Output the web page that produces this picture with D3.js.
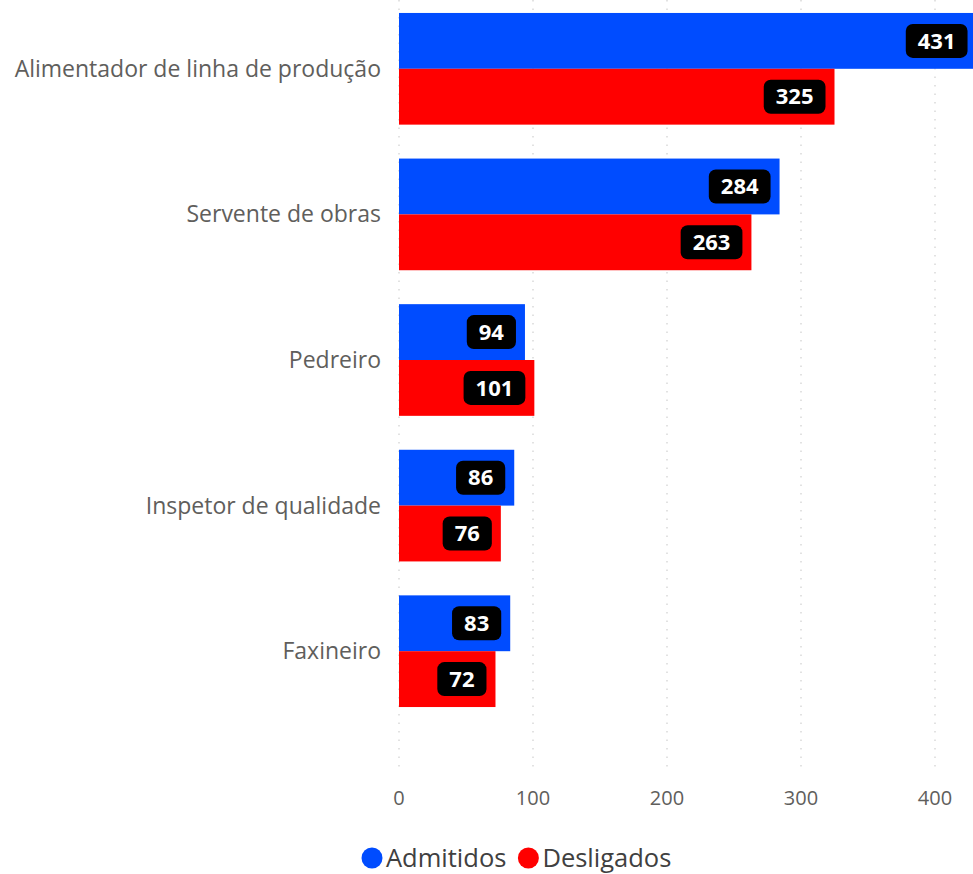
<!DOCTYPE html>
<html>
<head>
<meta charset="utf-8">
<script src="https://cdn.jsdelivr.net/npm/d3@7"></script>
<style>
    body { margin: 0; background: #fff; overflow: hidden; }
    svg { display: block; font-family: "Open Sans", sans-serif; }
    .cat-label { fill: #605e5c; font-size: 23px; }
    .tick-label { fill: #605e5c; font-size: 20px; }
    .legend-text { fill: #404040; font-size: 25.5px; }
    .value-label { fill: #fff; font-size: 22px; font-weight: 700; }
</style>
</head>
<body>
<script>
const categories = ["Alimentador de linha de produção", "Servente de obras", "Pedreiro", "Inspetor de qualidade", "Faxineiro"]
const admitidos = [431, 284, 94, 86, 83]
const desligados = [325, 263, 101, 76, 72]
const seriesNames = ["Admitidos", "Desligados"]
const xTicks = [0, 100, 200, 300, 400]

const WIDTH = 973
const HEIGHT = 874
const COLORS = ["#004cff", "#ff0000"]

const svg = d3.select("body")
    .append("svg")
    .attr("width", WIDTH)
    .attr("height", HEIGHT)

const xScale = d3.scaleLinear()
    .domain([0, 400])
    .range([399, 935])

const yScale = d3.scaleBand()
    .domain(categories)
    .range([-4, 724])
    .paddingInner(0.233)
    .paddingOuter(0.1165)

const subScale = d3.scaleBand()
    .domain(seriesNames)
    .range([0, yScale.bandwidth()])

// dotted gridlines
svg.append("g")
    .selectAll("line")
    .data(xTicks)
    .enter()
    .append("line")
    .attr("x1", d => xScale(d))
    .attr("x2", d => xScale(d))
    .attr("y1", 0)
    .attr("y2", 772)
    .attr("stroke", "#d9d9d9")
    .attr("stroke-width", 1.5)
    .attr("stroke-dasharray", "1.5,7")

// x-axis tick labels
svg.append("g")
    .selectAll("text")
    .data(xTicks)
    .enter()
    .append("text")
    .attr("class", "tick-label")
    .attr("x", d => xScale(d))
    .attr("y", 805)
    .attr("text-anchor", "middle")
    .text(d => d)

// category labels
svg.append("g")
    .selectAll("text")
    .data(categories)
    .enter()
    .append("text")
    .attr("class", "cat-label")
    .attr("x", 381)
    .attr("y", d => yScale(d) + yScale.bandwidth() / 2)
    .attr("dy", "0.35em")
    .attr("text-anchor", "end")
    .text(d => d)

const rows = []
categories.forEach((c, i) => {
    rows.push({ cat: c, series: seriesNames[0], value: admitidos[i], color: COLORS[0] })
    rows.push({ cat: c, series: seriesNames[1], value: desligados[i], color: COLORS[1] })
})

const bars = svg.append("g")
    .selectAll("g")
    .data(rows)
    .enter()
    .append("g")
    .attr("transform", d => "translate(0, " + (yScale(d.cat) + subScale(d.series)) + ")")

bars.append("rect")
    .attr("x", xScale(0))
    .attr("y", 0)
    .attr("width", d => xScale(d.value) - xScale(0))
    .attr("height", subScale.bandwidth())
    .attr("fill", d => d.color)

// value labels in black rounded boxes
const boxH = 34
bars.each(function (d) {
    const g = d3.select(this)
    const t = g.append("text")
        .attr("class", "value-label")
        .attr("text-anchor", "middle")
        .attr("dy", "0.35em")
        .text(d.value)
    const w = t.node().getComputedTextLength() + 24
    const right = xScale(d.value) - 9
    const cy = subScale.bandwidth() / 2
    g.insert("rect", "text")
        .attr("x", right - w)
        .attr("y", cy - boxH / 2)
        .attr("width", w)
        .attr("height", boxH)
        .attr("rx", 7)
        .attr("fill", "#000")
    t.attr("x", right - w / 2).attr("y", cy)
})

// legend
const legend = svg.append("g")
    .attr("transform", "translate(372, 858)")

let lx = 0
seriesNames.forEach((name, i) => {
    legend.append("circle")
        .attr("cx", lx)
        .attr("cy", 0)
        .attr("r", 10.5)
        .attr("fill", COLORS[i])
    const t = legend.append("text")
        .attr("class", "legend-text")
        .attr("x", lx + 14)
        .attr("y", 0)
        .attr("dy", "0.35em")
        .text(name)
    lx += 14 + t.node().getComputedTextLength() + 22
})
</script>
</body>
</html>
